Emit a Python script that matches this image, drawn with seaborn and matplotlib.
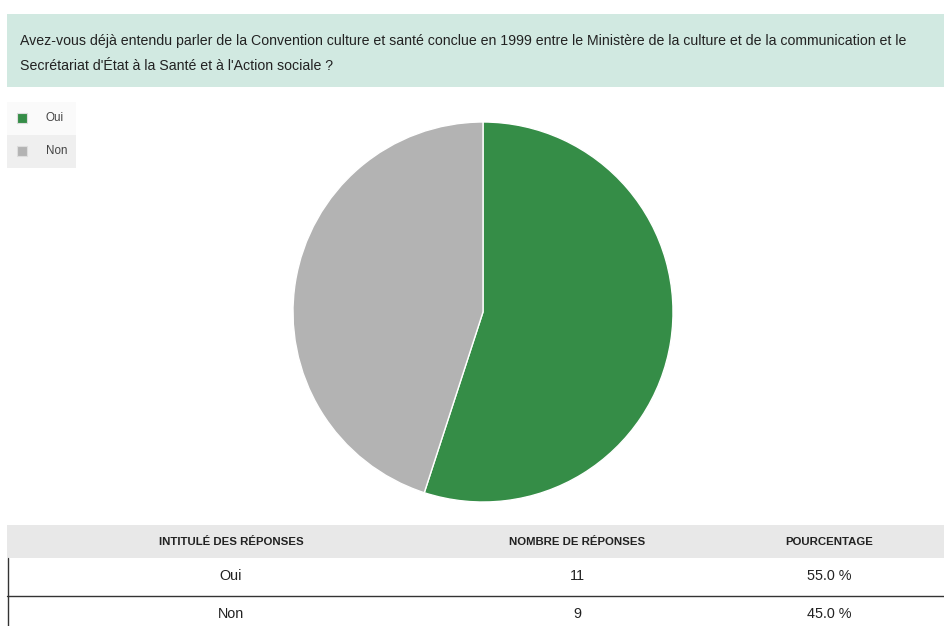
import matplotlib
matplotlib.use("Agg")
import matplotlib.pyplot as plt
from matplotlib.patches import Rectangle
from matplotlib.lines import Line2D
import seaborn as sns

# Survey answers
question = ("Avez-vous déjà entendu parler de la Convention culture et santé conclue en 1999 entre le "
            "Ministère de la culture et de la communication et le\n"
            "Secrétariat d'État à la Santé et à l'Action sociale ?")
categories = ["Oui", "Non"]
counts = [11, 9]
percentages = [55.0, 45.0]
colors = ["#358d47", "#b3b3b3"]
table_headers = ["INTITULÉ DES RÉPONSES", "NOMBRE DE RÉPONSES", "POURCENTAGE"]

sns.set_theme(style="white")
plt.rcParams["font.family"] = ["Liberation Sans", "DejaVu Sans"]

W, H = 944, 626
fig = plt.figure(figsize=(W / 100, H / 100), dpi=100)
fig.patch.set_facecolor("white")


def px_rect(x0, y0, x1, y1, **kw):
    """Rectangle given in pixel coordinates measured from the top-left corner."""
    fig.add_artist(Rectangle((x0 / W, 1 - y1 / H), (x1 - x0) / W, (y1 - y0) / H,
                             transform=fig.transFigure, **kw))


def px_text(x, y, s, **kw):
    fig.text(x / W, 1 - y / H, s, **kw)


def px_line(x0, y0, x1, y1, **kw):
    fig.add_artist(Line2D([x0 / W, x1 / W], [1 - y0 / H, 1 - y1 / H],
                          transform=fig.transFigure, **kw))


# Question banner
px_rect(7, 14, 944, 87, facecolor="#d1e9e1", edgecolor="none")
px_text(20, 53, question, fontsize=10.15, color="#222222", va="center", ha="left",
        linespacing=2.0)

# Legend box
px_rect(7, 102, 76, 135, facecolor="#fafafa", edgecolor="none")
px_rect(7, 135, 76, 168, facecolor="#efefef", edgecolor="none")
for i, (cat, col) in enumerate(zip(categories, colors)):
    yc = 118 + i * 33
    px_rect(17, yc - 5, 27, yc + 5, facecolor=col, edgecolor="#dddddd", linewidth=0.8)
    px_text(46, yc, cat, fontsize=8.4, color="#444444", va="center", ha="left")

# Pie chart
cx, cy, r = 483, 312, 190
ax = fig.add_axes([(cx - r) / W, 1 - (cy + r) / H, 2 * r / W, 2 * r / H])
ax.pie(counts, colors=colors, startangle=90, counterclock=False, radius=1,
       wedgeprops=dict(edgecolor="white", linewidth=1.0))
ax.set_xlim(-1, 1)
ax.set_ylim(-1, 1)
ax.set_aspect("equal")
ax.axis("off")

# Response table
col_x = [231, 577, 829]
px_rect(7, 525, 944, 558, facecolor="#e8e8e8", edgecolor="none")
for x, head in zip(col_x, table_headers):
    px_text(x, 542, head, fontsize=8.2, fontweight="bold", color="#222222",
            ha="center", va="center")
for i, (cat, n, p) in enumerate(zip(categories, counts, percentages)):
    yc = 576 + i * 38
    px_text(col_x[0], yc, cat, fontsize=10.4, color="#222222", ha="center", va="center")
    px_text(col_x[1], yc, f"{n}", fontsize=10.4, color="#222222", ha="center", va="center")
    px_text(col_x[2], yc, f"{p:.1f} %", fontsize=10.4, color="#222222", ha="center", va="center")
px_line(7, 596, 944, 596, color="#333333", linewidth=1.0)
px_line(7.5, 558, 7.5, 626, color="#333333", linewidth=1.0)

fig.savefig("out.png", dpi=100, facecolor="white")
